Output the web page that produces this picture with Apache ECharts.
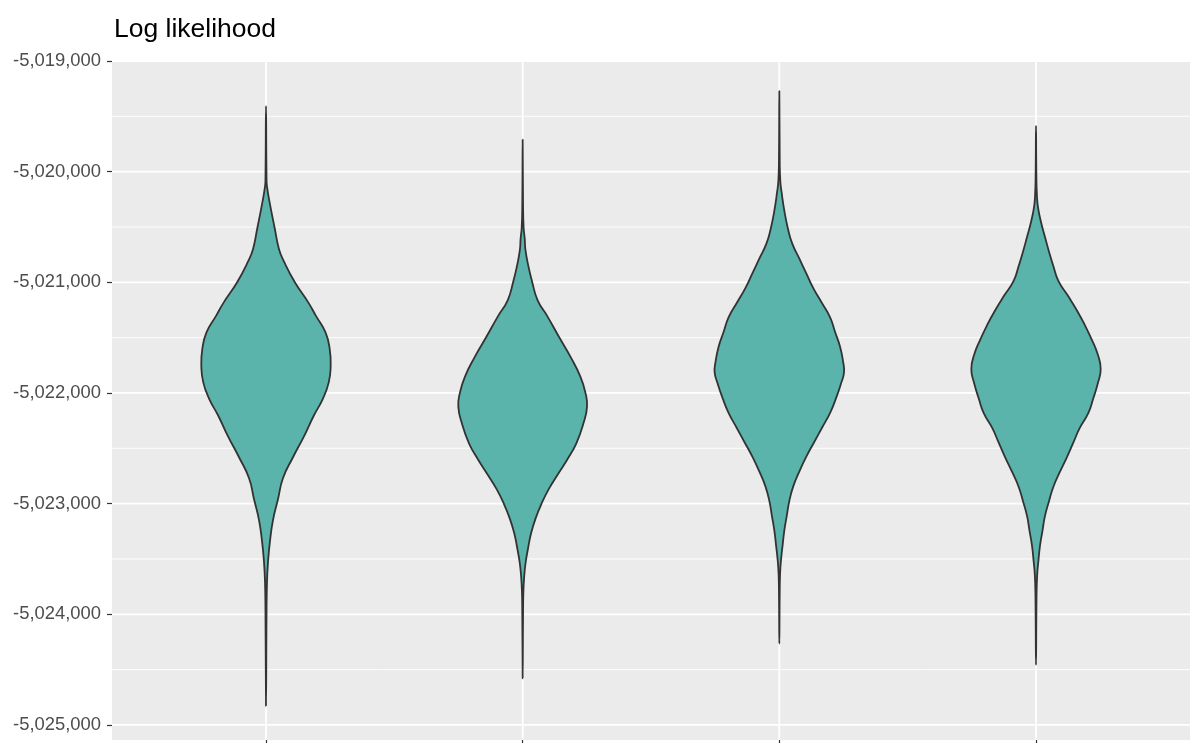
<!DOCTYPE html>
<html>
<head>
<meta charset="utf-8">
<script src="https://cdn.jsdelivr.net/npm/echarts@6/dist/echarts.min.js"></script>
<style>
  html, body { margin: 0; padding: 0; background: #ffffff; }
  #chart { width: 1190px; height: 743px; }
</style>
</head>
<body>
<div id="chart"></div>
<script>
// Axis ticks (log likelihood)
const yMajorTicks = [-5025000, -5024000, -5023000, -5022000, -5021000, -5020000, -5019000];
const yMinorTicks = [-5024500, -5023500, -5022500, -5021500, -5020500, -5019500];
const groupPositions = [1, 2, 3, 4];

// Violin outlines: [log likelihood, relative density (widest = 1)]
const violin1 = [
  [-5019408, 0], [-5020057, 0.008], [-5020132, 0.015], [-5020321, 0.07], [-5020509, 0.134],
  [-5020698, 0.2], [-5020811, 0.277], [-5020999, 0.446], [-5021188, 0.66], [-5021301, 0.77],
  [-5021452, 0.92], [-5021603, 0.985], [-5021753, 1.0], [-5021904, 0.97], [-5022055, 0.877],
  [-5022206, 0.738], [-5022394, 0.585], [-5022583, 0.415], [-5022771, 0.262], [-5022960, 0.185],
  [-5023149, 0.108], [-5023337, 0.062], [-5023526, 0.031], [-5023714, 0.015], [-5024000, 0.008],
  [-5024827, 0]
];
const violin2 = [
  [-5019711, 0], [-5020300, 0.006], [-5020508, 0.015], [-5020608, 0.032], [-5020707, 0.043],
  [-5020858, 0.09], [-5020994, 0.146], [-5021160, 0.23], [-5021310, 0.385], [-5021497, 0.565],
  [-5021672, 0.738], [-5021852, 0.892], [-5021997, 0.97], [-5022123, 0.995], [-5022274, 0.94],
  [-5022455, 0.83], [-5022601, 0.69], [-5022734, 0.545], [-5022867, 0.405], [-5023000, 0.292],
  [-5023133, 0.2], [-5023266, 0.131], [-5023399, 0.085], [-5023532, 0.046], [-5023664, 0.023],
  [-5023797, 0.011], [-5024000, 0.006], [-5024578, 0]
];
const violin3 = [
  [-5019272, 0], [-5019900, 0.006], [-5020086, 0.015], [-5020186, 0.035], [-5020352, 0.077],
  [-5020518, 0.134], [-5020651, 0.2], [-5020784, 0.308], [-5020917, 0.415], [-5021050, 0.523],
  [-5021183, 0.654], [-5021316, 0.785], [-5021449, 0.862], [-5021581, 0.938], [-5021714, 0.985],
  [-5021814, 1.0], [-5021914, 0.954], [-5022047, 0.877], [-5022179, 0.785], [-5022312, 0.662],
  [-5022445, 0.538], [-5022578, 0.415], [-5022711, 0.308], [-5022844, 0.215], [-5022977, 0.154],
  [-5023110, 0.115], [-5023243, 0.077], [-5023375, 0.051], [-5023508, 0.026], [-5023641, 0.011],
  [-5023850, 0.005], [-5024266, 0]
];
const violin4 = [
  [-5019585, 0], [-5020050, 0.006], [-5020223, 0.015], [-5020322, 0.031], [-5020455, 0.077],
  [-5020588, 0.138], [-5020721, 0.2], [-5020854, 0.269], [-5020987, 0.346], [-5021120, 0.492],
  [-5021252, 0.631], [-5021385, 0.754], [-5021518, 0.862], [-5021651, 0.954], [-5021784, 1.0],
  [-5021917, 0.954], [-5022050, 0.885], [-5022183, 0.808], [-5022316, 0.677], [-5022449, 0.577],
  [-5022581, 0.477], [-5022714, 0.369], [-5022847, 0.269], [-5022980, 0.2], [-5023113, 0.138],
  [-5023246, 0.1], [-5023379, 0.062], [-5023512, 0.038], [-5023645, 0.018], [-5023850, 0.008],
  [-5024458, 0]
];
const violins = [violin1, violin2, violin3, violin4];

const Y_MIN = -5025136;
const Y_MAX = -5018991;
const HALF_WIDTH = 0.252; // widest half-width, in x units

const chart = echarts.init(document.getElementById('chart'), null, { renderer: 'canvas' });

// Panel grid lines (major, minor horizontal + vertical at each group)
function renderGridLines(params, api) {
  const cs = params.coordSys;
  const children = [];
  yMinorTicks.forEach(v => {
    const y = api.coord([groupPositions[0], v])[1];
    children.push({ type: 'line', shape: { x1: cs.x, y1: y, x2: cs.x + cs.width, y2: y },
      style: { stroke: '#ffffff', lineWidth: 0.9 } });
  });
  yMajorTicks.forEach(v => {
    const y = api.coord([groupPositions[0], v])[1];
    children.push({ type: 'line', shape: { x1: cs.x, y1: y, x2: cs.x + cs.width, y2: y },
      style: { stroke: '#ffffff', lineWidth: 1.8 } });
  });
  groupPositions.forEach(g => {
    const x = api.coord([g, Y_MIN])[0];
    children.push({ type: 'line', shape: { x1: x, y1: cs.y, x2: x, y2: cs.y + cs.height },
      style: { stroke: '#ffffff', lineWidth: 1.8 } });
  });
  return { type: 'group', children };
}

function renderViolin(params, api) {
  const g = api.value(0);
  const profile = violins[api.value(1)];
  const unit = api.size([1, 0])[0];
  const maxHalf = HALF_WIDTH * unit;
  const right = [];
  const left = [];
  profile.forEach(([v, d], i) => {
    const p = api.coord([g, v]);
    right.push([p[0] + d * maxHalf, p[1]]);
    if (i > 0 && i < profile.length - 1) left.push([p[0] - d * maxHalf, p[1]]);
  });
  const points = right.concat(left.reverse());
  return {
    type: 'polygon',
    shape: { points, smooth: 0.5 },
    style: { fill: '#5AB4AC', stroke: '#333333', lineWidth: 1.8, lineJoin: 'round' }
  };
}

chart.setOption({
  animation: false,
  title: {
    text: 'Log likelihood',
    left: 109,
    top: 11,
    textStyle: { fontFamily: 'Liberation Sans', fontSize: 26.5, fontWeight: 'normal', color: '#000000' }
  },
  grid: {
    left: 112, top: 60, width: 1082, height: 680,
    show: true, backgroundColor: '#EBEBEB', borderWidth: 0
  },
  xAxis: {
    type: 'value', min: 0.4, max: 4.6,
    axisLine: { show: false },
    splitLine: { show: false },
    axisTick: { show: true, customValues: groupPositions, length: 4, lineStyle: { color: '#333333', width: 1.2 } },
    axisLabel: { show: false }
  },
  yAxis: {
    type: 'value', min: Y_MIN, max: Y_MAX,
    axisLine: { show: false },
    splitLine: { show: false },
    axisTick: { show: true, customValues: yMajorTicks, length: 5, lineStyle: { color: '#333333', width: 1.2 } },
    axisLabel: {
      customValues: yMajorTicks,
      margin: 11,
      fontFamily: 'Liberation Sans', fontSize: 18.4, color: '#4D4D4D',
      formatter: v => v.toLocaleString('en-US')
    }
  },
  series: [
    {
      type: 'custom', silent: true, z: 1,
      renderItem: renderGridLines,
      data: [[0]]
    },
    {
      type: 'custom', silent: true, z: 2,
      renderItem: renderViolin,
      encode: { x: 0, y: -1 },
      data: groupPositions.map((g, i) => [g, i])
    }
  ]
});
</script>
</body>
</html>
